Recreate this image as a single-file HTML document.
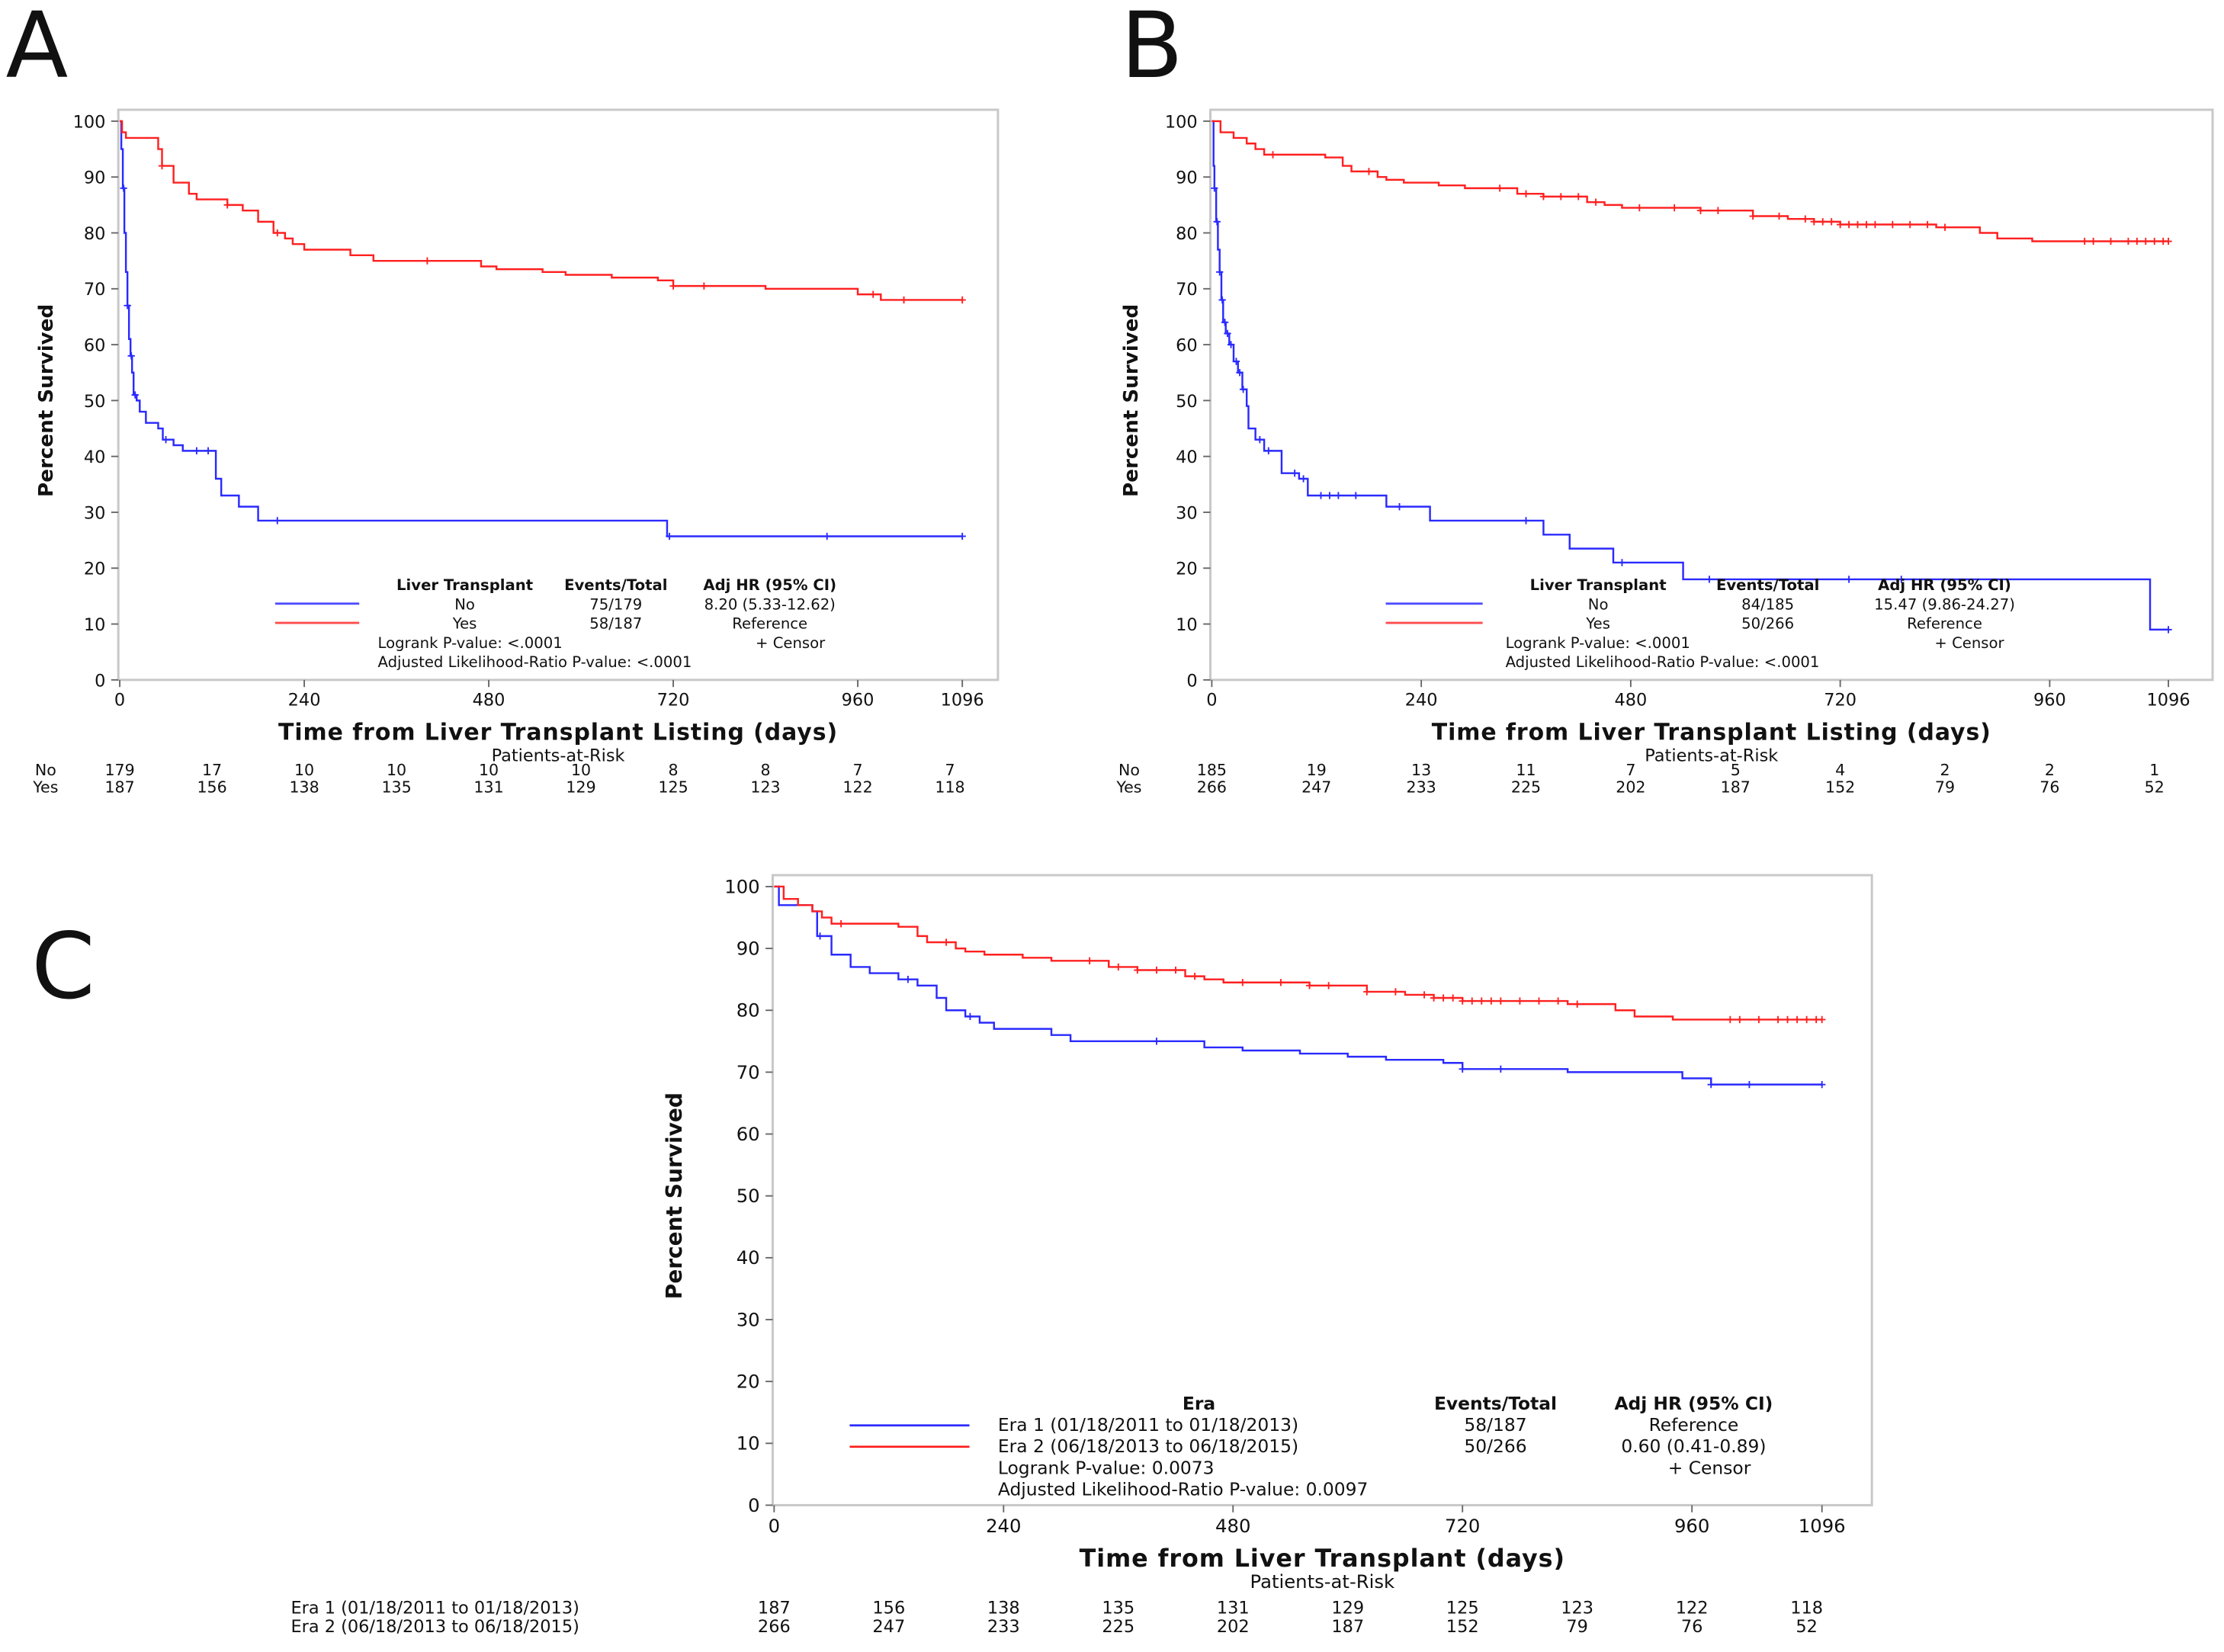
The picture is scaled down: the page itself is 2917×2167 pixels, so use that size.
<!DOCTYPE html>
<html><head><meta charset="utf-8"><style>
html,body{margin:0;padding:0;background:#fff;}
svg{display:block;}
text{font-family:"DejaVu Sans","Liberation Sans",sans-serif;fill:#111;}
</style></head><body>
<svg id="fig" width="2917" height="2167" viewBox="0 0 1560 1159" preserveAspectRatio="none" xmlns="http://www.w3.org/2000/svg">
<rect width="1560" height="1159" fill="#fff"/>
</svg>
<script>
// ---------- data ----------
const riskTimes = [0,120,240,360,480,600,720,840,960,1080];
const xTicks = [0,240,480,720,960,1096];
const yTicks = [0,10,20,30,40,50,60,70,80,90,100];

// Panel A
const aNoT = [0,2,4,6,8,10,12,14,16,18,22,26,34,50,56,70,82,125,132,155,180,712];
const aNoS = [100,95,88,80,73,67,61,58,55,51,50,48,46,45,43,42,41,36,33,31,28.5,25.7];
const aNoCensor = [5,10,15,20,60,100,115,205,715,920,1096];
const aYesT = [0,3,8,50,55,70,90,100,140,160,180,200,215,225,240,300,330,470,490,550,580,640,700,720,840,960,990];
const aYesS = [100,98,97,95,92,89,87,86,85,84,82,80,79,78,77,76,75,74,73.5,73,72.5,72,71.5,70.5,70,69,68];
const aYesCensor = [55,140,205,400,720,760,980,1020,1096];
const aRiskNo = [179,17,10,10,10,10,8,8,7,7];
const aRiskYes = [187,156,138,135,131,129,125,123,122,118];

// Panel B
const bNoT = [0,2,3,5,7,9,11,13,16,20,25,30,35,40,42,50,60,80,100,110,200,250,380,410,460,540,1075];
const bNoS = [100,92,88,82,77,73,68,64,62,60,57,55,52,49,45,43,41,37,36,33,31,28.5,26,23.5,21,18,9];
const bNoCensor = [3,6,9,12,15,18,22,28,32,36,55,65,95,105,125,135,145,165,215,360,470,570,730,790,1096];
const bYesT = [0,10,25,40,50,60,130,150,160,190,200,220,260,290,350,380,430,450,470,560,620,660,690,720,830,880,900,940];
const bYesS = [100,98,97,96,95,94,93.5,92,91,90,89.5,89,88.5,88,87,86.5,85.5,85,84.5,84,83,82.5,82,81.5,81,80,79,78.5];
const bYesCensor = [70,180,330,360,380,400,420,440,490,530,560,580,620,650,680,690,700,710,720,730,740,750,760,780,800,820,840,1000,1010,1030,1050,1060,1070,1080,1090,1096];
const bRiskNo = [185,19,13,11,7,5,4,2,2,1];
const bRiskYes = [266,247,233,225,202,187,152,79,76,52];

// Panel C
const cE1T = [0,5,40,45,60,80,100,130,150,170,180,200,215,230,290,310,450,490,550,600,640,700,720,830,950,980];
const cE1S = [100,97,96,92,89,87,86,85,84,82,80,79,78,77,76,75,74,73.5,73,72.5,72,71.5,70.5,70,69,68];
const cE1Censor = [48,140,205,400,720,760,980,1020,1096];
const cE2T = bYesT;
const cE2S = bYesS;
const cE2Censor = bYesCensor;
const cRisk1 = [187,156,138,135,131,129,125,123,122,118];
const cRisk2 = [266,247,233,225,202,187,152,79,76,52];

// ---------- drawing ----------
const NS = "http://www.w3.org/2000/svg";
const svg = document.getElementById('fig');
function el(tag, attrs, parent, txt){
  const e = document.createElementNS(NS, tag);
  for (const k in attrs) e.setAttribute(k, attrs[k]);
  if (txt !== undefined) e.textContent = txt;
  (parent || svg).appendChild(e);
  return e;
}
function stepPath(T, S, tEnd, sx, sy){
  let d = 'M' + sx(T[0]) + ',' + sy(S[0]);
  for (let i = 1; i < T.length; i++){
    d += ' H' + sx(T[i]) + ' V' + sy(S[i]);
  }
  d += ' H' + sx(tEnd);
  return d;
}
function survAt(T, S, t){
  let v = S[0];
  for (let i = 0; i < T.length; i++) if (T[i] <= t) v = S[i];
  return v;
}

function panel(cfg){
  const g = el('g', {}, svg);
  
  
  const sx = t => cfg.x0 + (t / 1096) * (cfg.x1 - cfg.x0);
  const sy = v => cfg.y0 - (v / 100) * (cfg.y0 - cfg.y100);
  const fr = el('rect', {x:cfg.fx0, y:cfg.fy0, width:cfg.fx1-cfg.fx0, height:cfg.y0-cfg.fy0, fill:'none', stroke:'#c8c8c8', 'stroke-width':1.6}, g);
  
  
  yTicks.forEach(v => {
    el('line', {x1:cfg.fx0-5, x2:cfg.fx0, y1:sy(v), y2:sy(v), stroke:'#666', 'stroke-width':1}, g);
    const t = el('text', {x:cfg.fx0-9, y:sy(v)+4.5, 'font-size':cfg.fs, 'text-anchor':'end'}, g, String(v));
    
    
  });
  xTicks.forEach(v => {
    el('line', {x1:sx(v), x2:sx(v), y1:cfg.y0, y2:cfg.y0+5, stroke:'#666', 'stroke-width':1}, g);
    const t = el('text', {x:sx(v), y:cfg.y0+cfg.fs+6, 'font-size':cfg.fs, 'text-anchor':'middle'}, g, String(v));
    
    
  });
  const yt = el('text', {x:0, y:0, 'font-size':cfg.fs+2, 'font-weight':'bold', 'text-anchor':'middle', transform:'translate('+cfg.ylx+','+((cfg.y0+cfg.y100)/2)+') rotate(-90)', 'font-family':'"Liberation Sans Narrow","Liberation Sans",sans-serif'}, g, 'Percent Survived');
  
  
  const xt = el('text', {x:(cfg.fx0+cfg.fx1)/2+cfg.xtOff, y:cfg.y0+cfg.fs+30, 'font-size':cfg.fs+4, 'font-weight':'bold', 'text-anchor':'middle', 'letter-spacing':'0.5'}, g, cfg.xtitle);
  
  
  const par = el('text', {x:(cfg.fx0+cfg.fx1)/2+cfg.xtOff, y:cfg.y0+cfg.fs+45, 'font-size':cfg.fs, 'text-anchor':'middle'}, g, 'Patients-at-Risk');
  
  
  cfg.series.forEach(s => {
    const p = el('path', {d:stepPath(s.T, s.S, s.end, sx, sy), fill:'none', stroke:s.color, 'stroke-width':1.3}, g);
    
    
    s.C.forEach(c => {
      const v = survAt(s.T, s.S, c);
      const m = el('path', {d:'M'+(sx(c)-2.5)+','+sy(v)+' h5 M'+sx(c)+','+(sy(v)-2.5)+' v5', stroke:s.color, 'stroke-width':1}, g);
      
      
    });
  });
  cfg.risk.forEach((r, ri) => {
    const yy = cfg.riskY + ri * cfg.riskDy;
    const lab = el('text', {x:cfg.rlx, y:yy, 'font-size':cfg.fs-1, 'text-anchor':cfg.rlAnchor}, g, r.label);
    
    
    r.vals.forEach((v, i) => {
      const t = el('text', {x:sx(riskTimes[i]), y:yy, 'font-size':cfg.fs-1, 'text-anchor':'middle'}, g, String(v));
      
      
    });
  });
  const L = cfg.legend;
  const lg = el('g', {}, g);
  
  
  const lf = L.fs;
  el('text', {x:L.c1, y:L.y, 'font-size':lf, 'font-weight':'bold', 'text-anchor':'middle'}, lg, L.h1);
  el('text', {x:L.c2, y:L.y, 'font-size':lf, 'font-weight':'bold', 'text-anchor':'middle'}, lg, 'Events/Total');
  el('text', {x:L.c3, y:L.y, 'font-size':lf, 'font-weight':'bold', 'text-anchor':'middle'}, lg, 'Adj HR (95% CI)');
  L.rows.forEach((r, i) => {
    const yy = L.y + (i+1) * L.dy;
    el('line', {x1:L.lx0, x2:L.lx1, y1:yy-4, y2:yy-4, stroke:r.color, 'stroke-width':1.5}, lg);
    el('text', {x:L.rowX, y:yy, 'font-size':lf, 'text-anchor':L.rowAnchor}, lg, r.label);
    el('text', {x:L.c2, y:yy, 'font-size':lf, 'text-anchor':'middle'}, lg, r.ev);
    el('text', {x:L.c3, y:yy, 'font-size':lf, 'text-anchor':'middle'}, lg, r.hr);
  });
  el('text', {x:L.px, y:L.y + 3*L.dy, 'font-size':lf}, lg, L.logrank);
  el('text', {x:L.cx, y:L.y + 3*L.dy, 'font-size':lf}, lg, '+  Censor');
  el('text', {x:L.px, y:L.y + 4*L.dy, 'font-size':lf}, lg, L.adj);
  const letter = el('text', {x:cfg.letX, y:cfg.letY, 'font-size':cfg.letFs, 'font-family':'"Liberation Sans",sans-serif'}, g, cfg.letter);
  
  
}

panel({
  name:'panel-a', letter:'A', letX:4, letY:54, letFs:64,
  x0:84, x1:675, y0:477, y100:85, fx0:83, fx1:700, fy0:77, fs:12,
  ylx:37, xtitle:'Time from Liver Transplant Listing (days)', xtOff:0,
  series:[
    {name:'curve-no-transplant', T:aNoT, S:aNoS, C:aNoCensor, end:1096, color:'#2a2aff'},
    {name:'curve-yes-transplant', T:aYesT, S:aYesS, C:aYesCensor, end:1096, color:'#ff2020'}
  ],
  risk:[{label:'No', vals:aRiskNo},{label:'Yes', vals:aRiskYes}],
  riskY:544, riskDy:12, rlx:32, rlAnchor:'middle',
  legend:{y:414, dy:13.5, fs:10.5, c1:326, c2:432, c3:540, h1:'Liver Transplant', lx0:193, lx1:252, rowX:326, rowAnchor:'middle',
    rows:[{color:'#4d4dff', label:'No', ev:'75/179', hr:'8.20 (5.33-12.62)'},{color:'#ff4d4d', label:'Yes', ev:'58/187', hr:'Reference'}],
    px:265, cx:530, logrank:'Logrank P-value: <.0001', adj:'Adjusted Likelihood-Ratio P-value: <.0001'}
});

panel({
  name:'panel-b', letter:'B', letX:786, letY:54, letFs:64,
  x0:850, x1:1521, y0:477, y100:85, fx0:849, fx1:1552, fy0:77, fs:12,
  ylx:798, xtitle:'Time from Liver Transplant Listing (days)', xtOff:0,
  series:[
    {name:'curve-no-transplant', T:bNoT, S:bNoS, C:bNoCensor, end:1096, color:'#2a2aff'},
    {name:'curve-yes-transplant', T:bYesT, S:bYesS, C:bYesCensor, end:1096, color:'#ff2020'}
  ],
  risk:[{label:'No', vals:bRiskNo},{label:'Yes', vals:bRiskYes}],
  riskY:544, riskDy:12, rlx:792, rlAnchor:'middle',
  legend:{y:414, dy:13.5, fs:10.5, c1:1121, c2:1240, c3:1364, h1:'Liver Transplant', lx0:972, lx1:1040, rowX:1121, rowAnchor:'middle',
    rows:[{color:'#4d4dff', label:'No', ev:'84/185', hr:'15.47 (9.86-24.27)'},{color:'#ff4d4d', label:'Yes', ev:'50/266', hr:'Reference'}],
    px:1056, cx:1357, logrank:'Logrank P-value: <.0001', adj:'Adjusted Likelihood-Ratio P-value: <.0001'}
});

panel({
  name:'panel-c', letter:'C', letX:22, letY:700, letFs:64,
  x0:543, x1:1278, y0:1056, y100:622, fx0:542, fx1:1313, fy0:614, fs:13,
  ylx:478, xtitle:'Time from Liver Transplant (days)', xtOff:0,
  series:[
    {name:'curve-era-1', T:cE1T, S:cE1S, C:cE1Censor, end:1096, color:'#2a2aff'},
    {name:'curve-era-2', T:cE2T, S:cE2S, C:cE2Censor, end:1096, color:'#ff2020'}
  ],
  risk:[{label:'Era 1 (01/18/2011 to 01/18/2013)', vals:cRisk1},{label:'Era 2 (06/18/2013 to 06/18/2015)', vals:cRisk2}],
  riskY:1132, riskDy:13, rlx:204, rlAnchor:'start',
  legend:{y:989, dy:15, fs:12.5, c1:841, c2:1049, c3:1188, h1:'Era', lx0:596, lx1:680, rowX:700, rowAnchor:'start',
    rows:[{color:'#2a2aff', label:'Era 1 (01/18/2011 to 01/18/2013)', ev:'58/187', hr:'Reference'},{color:'#ff2020', label:'Era 2 (06/18/2013 to 06/18/2015)', ev:'50/266', hr:'0.60 (0.41-0.89)'}],
    px:700, cx:1170, logrank:'Logrank P-value: 0.0073', adj:'Adjusted Likelihood-Ratio P-value: 0.0097'}
});
</script>
</body></html>
